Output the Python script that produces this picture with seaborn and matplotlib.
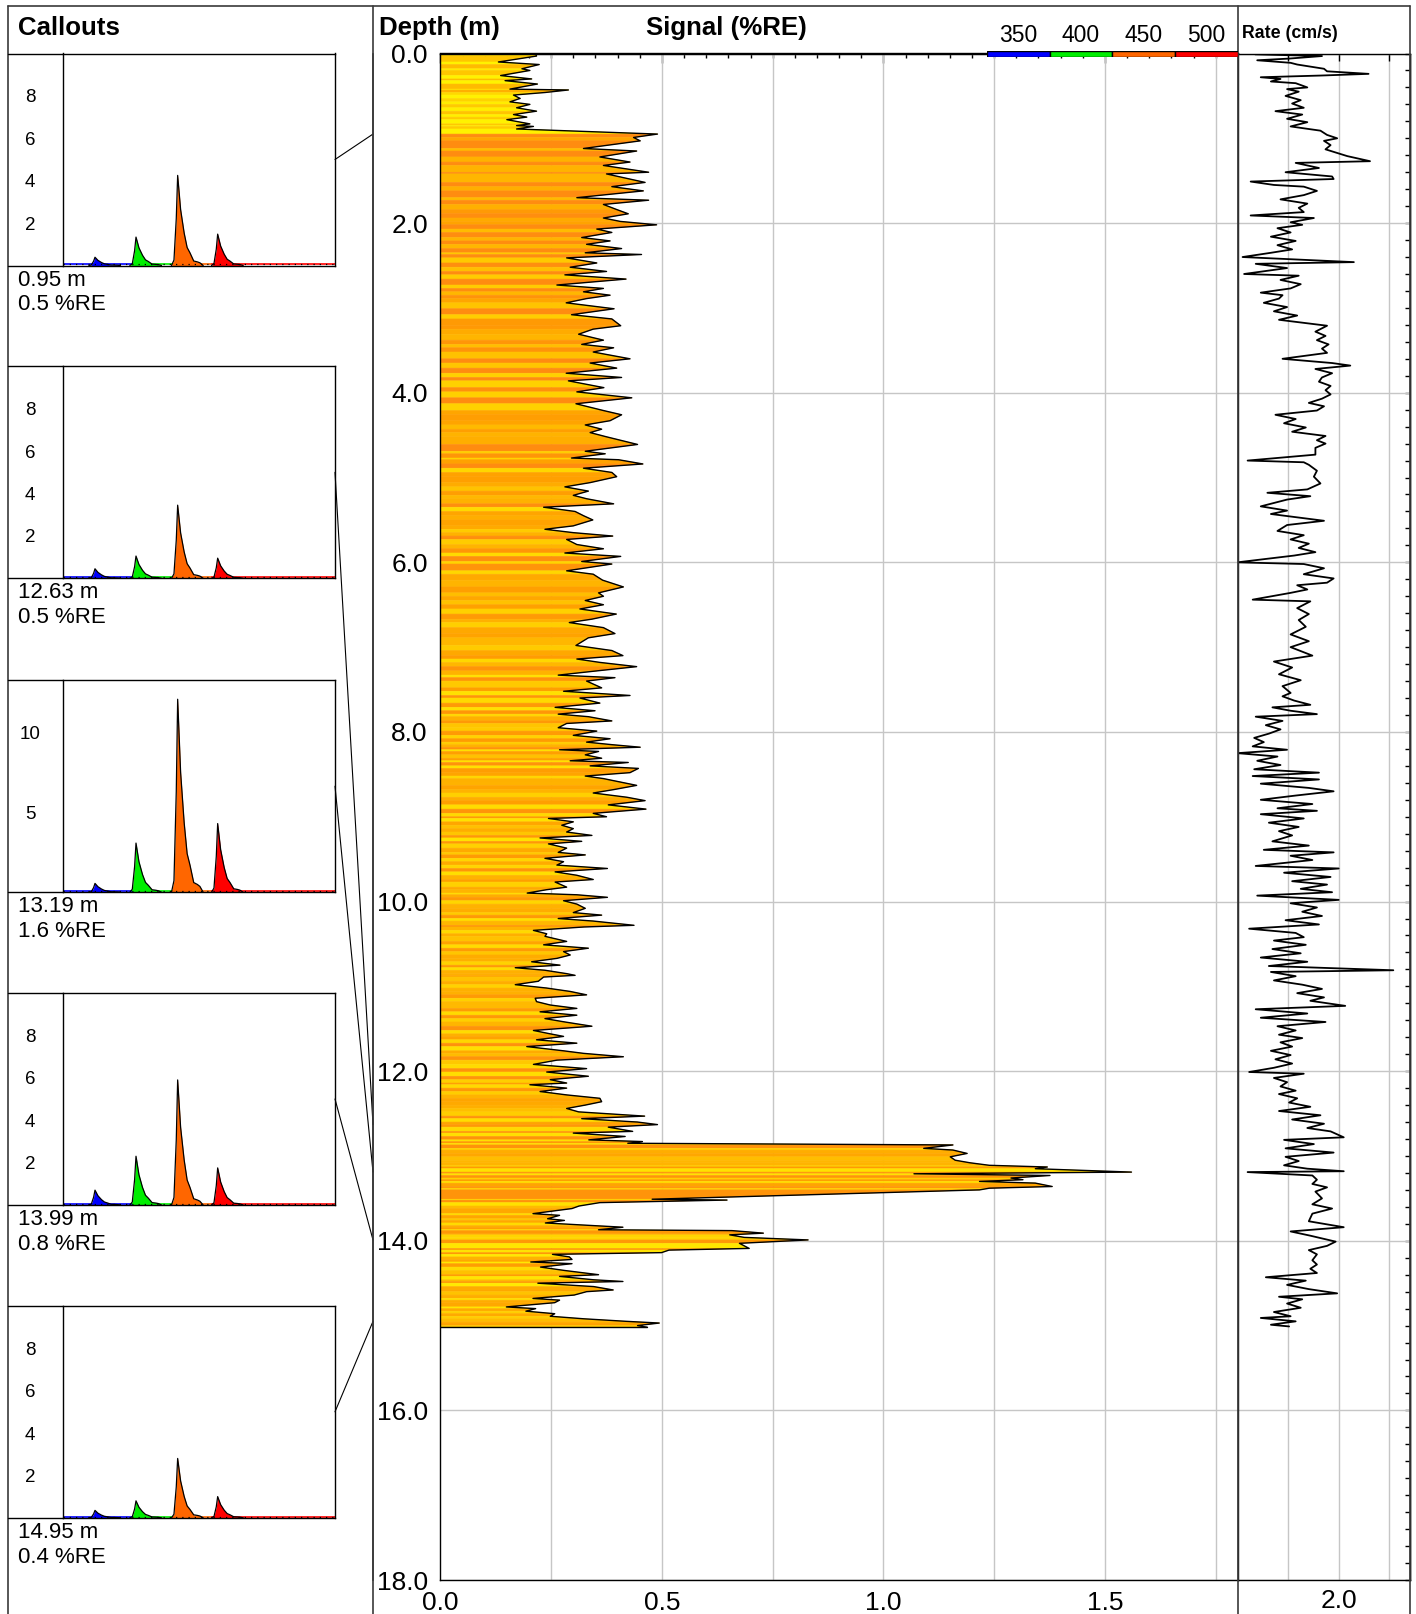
import numpy as np
import matplotlib
matplotlib.use("Agg")
import matplotlib.pyplot as plt
from matplotlib.collections import PolyCollection
from matplotlib.patches import ConnectionPatch
from matplotlib.lines import Line2D
from matplotlib.colors import LinearSegmentedColormap
from matplotlib.ticker import MultipleLocator, FixedLocator, FuncFormatter
import seaborn as sns

# ---------------- signal log (depth m, %RE) ----------------
signal_depth = [
    0.00, 0.03, 0.10, 0.13, 0.18, 0.20, 0.26, 0.30, 0.32, 0.36,
    0.42, 0.43, 0.46, 0.49, 0.53, 0.57, 0.60, 0.64, 0.68, 0.72,
    0.75, 0.78, 0.83, 0.85, 0.86, 0.89, 0.95, 0.99, 1.03, 1.12,
    1.15, 1.22, 1.28, 1.32, 1.40, 1.42, 1.52, 1.57, 1.62, 1.70,
    1.73, 1.78, 1.84, 1.89, 1.94, 1.98, 2.02, 2.07, 2.11, 2.17,
    2.21, 2.25, 2.30, 2.35, 2.37, 2.41, 2.47, 2.52, 2.57, 2.61,
    2.66, 2.73, 2.77, 2.81, 2.85, 2.89, 2.94, 3.01, 3.08, 3.13,
    3.21, 3.25, 3.31, 3.38, 3.43, 3.47, 3.52, 3.60, 3.65, 3.71,
    3.77, 3.82, 3.86, 3.94, 3.99, 4.06, 4.13, 4.21, 4.26, 4.33,
    4.38, 4.43, 4.47, 4.52, 4.61, 4.69, 4.72, 4.77, 4.79, 4.84,
    4.89, 4.94, 4.99, 5.06, 5.11, 5.16, 5.21, 5.25, 5.31, 5.35,
    5.40, 5.45, 5.50, 5.57, 5.61, 5.65, 5.69, 5.73, 5.79, 5.84,
    5.89, 5.93, 5.99, 6.02, 6.10, 6.14, 6.21, 6.29, 6.36, 6.40,
    6.45, 6.50, 6.55, 6.61, 6.67, 6.71, 6.77, 6.84, 6.89, 6.98,
    7.04, 7.10, 7.14, 7.18, 7.23, 7.28, 7.33, 7.36, 7.40, 7.48,
    7.52, 7.57,
    7.60, 7.66, 7.71, 7.75, 7.79, 7.82, 7.87, 7.90, 7.95, 7.99,
    8.04, 8.08, 8.12, 8.15, 8.18, 8.21, 8.23, 8.27, 8.31, 8.34,
    8.36, 8.40, 8.43, 8.48, 8.52, 8.55, 8.59, 8.63, 8.68, 8.72,
    8.77, 8.81, 8.86, 8.91, 8.96, 9.00, 9.02, 9.06, 9.10, 9.14,
    9.18, 9.22, 9.25, 9.29, 9.32, 9.37, 9.42, 9.45, 9.49, 9.53,
    9.57, 9.61, 9.65, 9.69, 9.74, 9.77, 9.83, 9.86, 9.90, 9.92,
    9.95, 9.99, 10.03, 10.08, 10.13, 10.16, 10.20, 10.23, 10.28, 10.30,
    10.34, 10.38, 10.41, 10.47, 10.51, 10.55, 10.59, 10.63, 10.67, 10.71,
    10.75, 10.78, 10.81, 10.85, 10.87, 10.89, 10.94, 10.98, 11.02, 11.06,
    11.10, 11.14, 11.18, 11.22, 11.26, 11.30, 11.34, 11.38, 11.42, 11.47,
    11.52, 11.56, 11.59, 11.63, 11.67, 11.71, 11.76, 11.79, 11.83, 11.87,
    11.92, 11.97, 12.01, 12.06, 12.10, 12.14, 12.16, 12.20, 12.24, 12.28,
    12.32, 12.36, 12.40, 12.44, 12.48,
    12.53, 12.56, 12.60, 12.63, 12.66, 12.71, 12.73, 12.77, 12.81, 12.83,
    12.85, 12.87, 12.91, 12.93, 12.97, 13.01, 13.05, 13.08, 13.11, 13.13,
    13.15, 13.19, 13.21, 13.23, 13.26, 13.28, 13.30, 13.32, 13.36, 13.38,
    13.40, 13.51, 13.52, 13.55, 13.59, 13.62, 13.68, 13.70, 13.74, 13.76,
    13.79, 13.82, 13.84, 13.87, 13.88, 13.91, 13.93, 13.96, 13.99, 14.03,
    14.09, 14.11, 14.14, 14.16, 14.19, 14.22, 14.25, 14.27, 14.31, 14.35,
    14.40, 14.42, 14.46, 14.48, 14.50, 14.54, 14.58, 14.60, 14.64, 14.68,
    14.70, 14.73, 14.78, 14.80, 14.83, 14.86, 14.89, 14.92, 14.95, 14.97,
    15.00, 15.02,
]
signal_value = [
    0.215, 0.217, 0.131, 0.223, 0.184, 0.202, 0.136, 0.206, 0.146, 0.219,
    0.157, 0.289, 0.236, 0.165, 0.180, 0.157, 0.202, 0.172, 0.217, 0.165,
    0.195, 0.150, 0.202, 0.172, 0.210, 0.172, 0.490, 0.436, 0.451, 0.323,
    0.443, 0.360, 0.428, 0.368, 0.470, 0.375, 0.462, 0.387, 0.458, 0.308,
    0.470, 0.368, 0.398, 0.424, 0.368, 0.406, 0.488, 0.353, 0.387, 0.319,
    0.383, 0.330, 0.409, 0.327, 0.454, 0.285, 0.353, 0.293, 0.375, 0.281,
    0.419, 0.263, 0.368, 0.323, 0.383, 0.330, 0.284, 0.392, 0.296, 0.387,
    0.407, 0.345, 0.312, 0.368, 0.319, 0.391, 0.345, 0.428, 0.338, 0.398,
    0.284, 0.409, 0.289, 0.369, 0.308, 0.432, 0.306, 0.368, 0.409, 0.383,
    0.327, 0.364, 0.338, 0.375, 0.445, 0.327, 0.372, 0.296, 0.402, 0.457,
    0.323, 0.387, 0.398, 0.338, 0.281, 0.334, 0.300, 0.330, 0.391, 0.233,
    0.304, 0.323, 0.344, 0.300, 0.236, 0.300, 0.389, 0.285, 0.308, 0.368,
    0.281, 0.407, 0.319, 0.387, 0.285, 0.345, 0.366, 0.413, 0.357, 0.368,
    0.327, 0.368, 0.315, 0.397, 0.342, 0.291, 0.368, 0.394, 0.334, 0.306,
    0.387, 0.412, 0.308, 0.360, 0.443, 0.353, 0.266, 0.394, 0.330, 0.364,
    0.278, 0.428,
    0.315, 0.360, 0.259, 0.349, 0.266, 0.334, 0.387, 0.285, 0.266, 0.353,
    0.300, 0.383, 0.330, 0.387, 0.451, 0.269, 0.357, 0.327, 0.364, 0.293,
    0.424, 0.338, 0.447, 0.428, 0.327, 0.368, 0.406, 0.443, 0.391, 0.345,
    0.421, 0.462, 0.379, 0.464, 0.345, 0.375, 0.244, 0.300, 0.274, 0.300,
    0.285, 0.342, 0.225, 0.319, 0.244, 0.285, 0.266, 0.327, 0.236, 0.278,
    0.263, 0.377, 0.259, 0.308, 0.345, 0.259, 0.285, 0.240, 0.196, 0.308,
    0.377, 0.278, 0.308, 0.327, 0.300, 0.364, 0.266, 0.345, 0.437, 0.323,
    0.210, 0.240, 0.236, 0.285, 0.233, 0.334, 0.278, 0.293, 0.263, 0.206,
    0.270, 0.169, 0.236, 0.285, 0.304, 0.233, 0.221, 0.169, 0.240, 0.293,
    0.330, 0.214, 0.217, 0.248, 0.308, 0.225, 0.308, 0.236, 0.281, 0.342,
    0.210, 0.248, 0.278, 0.217, 0.308, 0.195, 0.278, 0.323, 0.413, 0.263,
    0.210, 0.330, 0.240, 0.334, 0.248, 0.285, 0.202, 0.285, 0.225, 0.285,
    0.360, 0.364, 0.327, 0.285, 0.312,
    0.461, 0.319, 0.445, 0.490, 0.379, 0.434, 0.300, 0.417, 0.335, 0.456,
    0.423, 1.157, 1.091, 1.157, 1.189, 1.151, 1.162, 1.195, 1.239, 1.370,
    1.343, 1.560, 1.069, 1.376, 1.288, 1.315, 1.217, 1.343, 1.381, 1.239,
    1.217, 0.478, 0.647, 0.360, 0.313, 0.297, 0.209, 0.269, 0.242, 0.280,
    0.237, 0.341, 0.412, 0.357, 0.658, 0.729, 0.653, 0.686, 0.830, 0.675,
    0.697, 0.516, 0.499, 0.253, 0.291, 0.297, 0.204, 0.297, 0.226, 0.280,
    0.357, 0.269, 0.346, 0.412, 0.220, 0.346, 0.390, 0.330, 0.302, 0.209,
    0.269, 0.258, 0.149, 0.215, 0.193, 0.258, 0.248, 0.324, 0.420, 0.494,
    0.445, 0.467,
]

# fill tint along depth: 0 = yellow, 1 = deep orange
tint_depth = [0.0, 0.9, 0.95, 1.5, 2.0, 2.5, 3.5, 4.5, 5.5, 6.5, 7.5,
              8.5, 9.5, 10.5, 11.5, 12.5, 13.0, 13.5, 14.0, 14.5, 15.0]
tint_level = [0.18, 0.18, 0.80, 0.86, 0.80, 0.70, 0.66, 0.64, 0.58, 0.55, 0.53,
              0.53, 0.50, 0.50, 0.53, 0.55, 0.52, 0.52, 0.46, 0.44, 0.48]

# ---------------- rate log (depth m, cm/s) ----------------
rate_depth = [
    0.01, 0.03, 0.06, 0.08, 0.11, 0.13, 0.18, 0.21, 0.24, 0.26,
    0.28, 0.30, 0.33, 0.35, 0.40, 0.42, 0.45, 0.50, 0.55, 0.59,
    0.64, 0.68, 0.72, 0.77, 0.81, 0.86, 0.91, 0.96, 1.00, 1.03,
    1.08, 1.13, 1.21, 1.27, 1.29, 1.35, 1.40, 1.45, 1.48, 1.51,
    1.55, 1.57, 1.62, 1.67, 1.72, 1.77, 1.82, 1.87, 1.91, 1.94,
    1.99, 2.02, 2.06, 2.11, 2.16, 2.21, 2.26, 2.31, 2.35, 2.40,
    2.43, 2.46, 2.48, 2.53, 2.60, 2.62, 2.67, 2.72, 2.77, 2.82,
    2.85, 2.89, 2.94, 2.99, 3.04, 3.09, 3.14, 3.19, 3.21, 3.28,
    3.33, 3.38, 3.43, 3.48, 3.53, 3.60, 3.65, 3.68, 3.72, 3.77,
    3.82, 3.87, 3.92, 3.97, 4.02, 4.07, 4.12, 4.16, 4.21, 4.26,
    4.31, 4.36, 4.41, 4.46, 4.51, 4.56, 4.60, 4.65, 4.73, 4.80,
    4.82, 4.85, 4.92, 4.99, 5.07, 5.14, 5.18, 5.22, 5.26, 5.34,
    5.39, 5.43, 5.51, 5.56, 5.63, 5.68, 5.73, 5.78, 5.83, 5.88,
    5.92, 6.00, 6.02, 6.07, 6.14, 6.19, 6.24, 6.27, 6.32, 6.36,
    6.44, 6.46, 6.54, 6.61, 6.68, 6.76, 6.85, 6.93, 7.00, 7.10,
    7.17, 7.24, 7.32, 7.39, 7.46, 7.54,
    7.58, 7.63, 7.68, 7.71, 7.75, 7.79, 7.82, 7.87, 7.92, 7.97,
    8.02, 8.07, 8.12, 8.17, 8.21, 8.25, 8.29, 8.34, 8.39, 8.44,
    8.48, 8.52, 8.56, 8.61, 8.66, 8.70, 8.75, 8.80, 8.85, 8.90,
    8.93, 8.97, 9.02, 9.07, 9.12, 9.17, 9.22, 9.29, 9.34, 9.39,
    9.42, 9.46, 9.51, 9.58, 9.61, 9.66, 9.71, 9.76, 9.80, 9.85,
    9.89, 9.93, 9.98, 10.02, 10.07, 10.12, 10.17, 10.22, 10.27, 10.32,
    10.37, 10.42, 10.46, 10.51, 10.56, 10.61, 10.66, 10.71, 10.76, 10.81,
    10.83, 10.88, 10.93, 10.98, 11.03, 11.08, 11.13, 11.17, 11.23, 11.27,
    11.32, 11.37, 11.42, 11.47, 11.52, 11.57, 11.61, 11.66, 11.71, 11.76,
    11.81, 11.86, 11.91, 11.96, 12.01, 12.03, 12.08, 12.13, 12.18, 12.23,
    12.27, 12.32, 12.37, 12.42, 12.47, 12.52, 12.57, 12.62, 12.67, 12.71,
    12.78, 12.81, 12.86, 12.91, 12.96, 13.01, 13.06, 13.11, 13.15, 13.18,
    13.19, 13.23, 13.28, 13.33, 13.37, 13.42, 13.50, 13.57, 13.62, 13.68,
    13.77, 13.84, 13.89, 13.94, 14.01, 14.06, 14.11, 14.16, 14.23, 14.28,
    14.33, 14.38, 14.43, 14.47, 14.52, 14.57, 14.62, 14.66, 14.69, 14.74,
    14.79, 14.84, 14.89, 14.91, 14.95, 14.99, 15.01,
]
rate_value = [
    1.835, 1.967, 1.902, 1.839, 1.905, 1.918, 1.971, 1.977, 2.059, 1.964,
    1.846, 1.885, 1.866, 1.915, 1.938, 1.898, 1.921, 1.895, 1.925, 1.908,
    1.931, 1.875, 1.928, 1.898, 1.938, 1.905, 1.964, 1.977, 1.997, 1.971,
    1.984, 1.974, 2.017, 2.062, 1.915, 1.961, 1.895, 1.987, 1.990, 1.826,
    1.872, 1.931, 1.957, 1.931, 1.885, 1.938, 1.921, 1.931, 1.826, 1.951,
    1.905, 1.928, 1.879, 1.905, 1.866, 1.915, 1.879, 1.908, 1.866, 1.810,
    1.921, 2.030, 1.836, 1.898, 1.813, 1.921, 1.885, 1.925, 1.905, 1.846,
    1.889, 1.882, 1.852, 1.898, 1.872, 1.918, 1.882, 1.951, 1.977, 1.954,
    1.974, 1.957, 1.980, 1.967, 1.977, 1.889, 1.987, 2.023, 1.954, 1.987,
    1.967, 1.961, 1.984, 1.974, 1.984, 1.967, 1.941, 1.971, 1.957, 1.875,
    1.915, 1.892, 1.935, 1.908, 1.974, 1.957, 1.974, 1.954, 1.954, 1.820,
    1.931, 1.941, 1.957, 1.951, 1.964, 1.938, 1.859, 1.944, 1.898, 1.846,
    1.898, 1.866, 1.971, 1.898, 1.879, 1.931, 1.905, 1.941, 1.921, 1.954,
    1.912, 1.800, 1.931, 1.971, 1.931, 1.990, 1.977, 1.918, 1.938, 1.905,
    1.830, 1.944, 1.918, 1.941, 1.921, 1.935, 1.905, 1.941, 1.905, 1.948,
    1.872, 1.908, 1.882, 1.925, 1.889, 1.905,
    1.889, 1.912, 1.944, 1.869, 1.905, 1.957, 1.836, 1.889, 1.856, 1.885,
    1.862, 1.833, 1.852, 1.830, 1.898, 1.800, 1.879, 1.839, 1.885, 1.833,
    1.961, 1.830, 1.961, 1.846, 1.941, 1.990, 1.915, 1.846, 1.948, 1.879,
    1.957, 1.846, 1.931, 1.862, 1.921, 1.882, 1.908, 1.869, 1.941, 1.852,
    1.990, 1.905, 1.948, 1.836, 2.000, 1.892, 1.984, 1.908, 1.977, 1.925,
    1.987, 1.839, 2.000, 1.905, 1.957, 1.928, 1.967, 1.895, 1.961, 1.823,
    1.915, 1.931, 1.872, 1.935, 1.869, 1.925, 1.846, 1.938, 1.862, 2.108,
    1.866, 1.915, 1.872, 1.928, 1.967, 1.918, 1.971, 1.944, 2.013, 1.836,
    1.938, 1.846, 1.974, 1.879, 1.915, 1.882, 1.928, 1.885, 1.908, 1.866,
    1.905, 1.875, 1.908, 1.872, 1.823, 1.931, 1.872, 1.898, 1.885, 1.915,
    1.882, 1.918, 1.902, 1.944, 1.882, 1.964, 1.908, 1.971, 1.938, 1.984,
    2.010, 1.892, 1.951, 1.895, 1.990, 1.895, 1.921, 1.892, 1.938, 2.010,
    1.820, 1.948, 1.957, 1.948, 1.977, 1.954, 1.967, 1.948, 1.987, 1.948,
    1.941, 2.010, 1.905, 1.944, 1.994, 1.977, 1.941, 1.957, 1.948, 1.957,
    1.944, 1.957, 1.856, 1.935, 1.898, 1.941, 1.997, 1.882, 1.928, 1.898,
    1.925, 1.872, 1.905, 1.846, 1.915, 1.866, 1.902,
]

# ---------------- callout spectra ----------------
callout_depth = [0.95, 12.63, 13.19, 13.99, 14.95]
callout_signal = [0.5, 0.5, 1.6, 0.8, 0.4]
callout_ymax = [10, 10, 13.25, 10, 10]
callout_ystep = [2, 2, 5, 2, 2]
callout_yminor = [0.4, 0.4, 1, 0.4, 0.4]
# peak heights per callout: blue, green, orange, red
peak_heights = [
    [0.39, 1.34, 4.25, 1.48],
    [0.45, 1.05, 3.45, 0.95],
    [0.55, 3.07, 12.06, 4.29],
    [0.70, 2.30, 5.90, 1.75],
    [0.35, 0.80, 2.80, 1.00],
]
peak_centres = [348.5, 398.3, 448.9, 497.5]
band_edges = [310, 393, 442, 490, 640]
band_colours = ["#0000ff", "#00ee00", "#ff6600", "#ff0000"]
legend_labels = ["350", "400", "450", "500"]
profile_offset = [-7.5, -4.5, -1.7, 0.0, 3.6, 7.9, 11.5, 15.0, 19.5, 24.0, 27.0, 31.0]
profile_shape = [0.0, 0.06, 0.52, 1.0, 0.62, 0.36, 0.20, 0.14, 0.05, 0.04, 0.03, 0.0]
baseline_level = 0.05

assert len(signal_depth) == len(signal_value)
assert len(rate_depth) == len(rate_value)

# ---------------- styling ----------------
sns.set_style("white")
plt.rcParams["font.family"] = ["Liberation Sans", "DejaVu Sans"]
plt.rcParams["text.color"] = "black"
plt.rcParams["axes.edgecolor"] = "black"
plt.rcParams["xtick.color"] = "black"
plt.rcParams["ytick.color"] = "black"
plt.rcParams["axes.linewidth"] = 1.0

W, H = 1416, 1614
fig = plt.figure(figsize=(W / 100, H / 100), dpi=100)


def fx(px):
    return px / W


def fy(py):
    return 1 - py / H


def rect(x0, y0, x1, y1):
    return [fx(x0), fy(y1), fx(x1) - fx(x0), fy(y0) - fy(y1)]


GRID = "#c6c6c6"
TOP, BOTTOM = 53.5, 1580.0
DEPTH_MAX = 18.0
TICK_FS = 19
HEAD_FS = 18.6

# ---------------- column frame ----------------
frame_kw = dict(transform=fig.transFigure, color="#3a3a3a", lw=1.2)
fig.add_artist(Line2D([fx(7.7), fx(1409.5)], [fy(5.7), fy(5.7)], **frame_kw))
for xpx in (7.7, 373.0, 1237.5, 1409.5):
    fig.add_artist(Line2D([fx(xpx), fx(xpx)], [fy(5.7), 0], **frame_kw))

# ---------------- main signal track ----------------
ax = fig.add_axes(rect(440.4, TOP, 1237.8, BOTTOM))
ax.set_xlim(0, 1.8)
ax.set_ylim(DEPTH_MAX, 0)

d = np.asarray(signal_depth)
v = np.asarray(signal_value)
base = np.interp(d, tint_depth, tint_level)
jag = np.zeros_like(v)
jag[1:-1] = v[1:-1] - 0.5 * (v[:-2] + v[2:])
tone = np.clip(base + np.clip(jag * 4.0, -0.38, 0.38), 0, 1)
fill_cmap = LinearSegmentedColormap.from_list(
    "fill", ["#fff200", "#ffd400", "#ffb400", "#ffa000", "#ff8c10"])
polys = [[(0, d[i]), (v[i], d[i]), (v[i + 1], d[i + 1]), (0, d[i + 1])]
         for i in range(len(d) - 1)]
cols = fill_cmap(tone[:-1])
ax.add_collection(PolyCollection(polys, facecolors=cols, edgecolors=cols,
                                 linewidths=0.4, zorder=2))
sns.lineplot(x=v, y=d, orient="y", sort=True, estimator=None,
             color="black", lw=1.0, ax=ax, zorder=3)
ax.plot([0, v[-1]], [d[-1], d[-1]], color="black", lw=1.0, zorder=3)

for xg in np.arange(0.25, 1.8, 0.25):
    ax.axvline(xg, color=GRID, lw=1.0, zorder=0.5)
ax.yaxis.set_major_locator(MultipleLocator(2))
ax.yaxis.set_minor_locator(MultipleLocator(0.2))
ax.grid(True, axis="y", which="major", color=GRID, lw=1.0, zorder=0.5)
ax.set_axisbelow(True)
ax.yaxis.set_major_formatter(FuncFormatter(lambda y, p: f"{y:.1f}"))
ax.xaxis.set_major_locator(MultipleLocator(0.5))
ax.xaxis.set_minor_locator(MultipleLocator(0.05))
ax.xaxis.set_major_formatter(FuncFormatter(lambda x, p: f"{x:.1f}"))
ax.tick_params(axis="y", which="major", direction="out", length=8.6, width=1,
               labelsize=TICK_FS, pad=0.5)
ax.tick_params(axis="y", which="minor", direction="out", length=3.6, width=1)
ax.tick_params(axis="x", which="major", direction="out", length=5.8, width=1,
               labelsize=TICK_FS, pad=2.0)
ax.tick_params(axis="x", which="minor", direction="out", length=3.6, width=1)
ax.set_xlabel("")
ax.set_ylabel("")
for s in ax.spines.values():
    s.set_color("black")
    s.set_linewidth(1.0)
sec = ax.secondary_xaxis("top")
sec.xaxis.set_major_locator(MultipleLocator(0.5))
sec.xaxis.set_minor_locator(MultipleLocator(0.05))
sec.tick_params(axis="x", which="major", direction="in", length=7, width=1,
                labeltop=False)
sec.tick_params(axis="x", which="minor", direction="in", length=3.6, width=1)

# ---------------- depth divider ticks ----------------
axt = fig.add_axes(rect(373.0, TOP, 440.4, BOTTOM), facecolor="none")
axt.set_ylim(DEPTH_MAX, 0)
axt.set_xlim(0, 1)
for side in ("top", "right", "bottom"):
    axt.spines[side].set_visible(False)
axt.spines["left"].set_color("#3a3a3a")
axt.spines["left"].set_linewidth(1.2)
axt.set_xticks([])
axt.yaxis.set_major_locator(MultipleLocator(2))
axt.yaxis.set_minor_locator(MultipleLocator(0.2))
axt.tick_params(axis="y", which="major", direction="in", length=7, width=1,
                labelleft=False)
axt.tick_params(axis="y", which="minor", direction="in", length=3.6, width=1)

# ---------------- rate track ----------------
axr = fig.add_axes(rect(1237.5, TOP, 1409.5, BOTTOM))
axr.set_xlim(1.8, 2.14)
axr.set_ylim(DEPTH_MAX, 0)
sns.lineplot(x=rate_value, y=rate_depth, orient="y", sort=True, estimator=None,
             color="black", lw=1.3, ax=axr, zorder=3)
axr.xaxis.set_major_locator(FixedLocator([1.9, 2.0, 2.1]))
axr.xaxis.set_major_formatter(
    FuncFormatter(lambda x, p: f"{x:.1f}" if abs(x - 2.0) < 1e-9 else ""))
axr.yaxis.set_major_locator(MultipleLocator(2))
axr.yaxis.set_minor_locator(MultipleLocator(0.2))
axr.grid(True, which="major", color=GRID, lw=1.0)
axr.set_axisbelow(True)
axr.tick_params(axis="x", which="major", direction="in", length=5, width=1,
                top=True, bottom=False, labelsize=TICK_FS, pad=6.3)
axr.tick_params(axis="y", which="both", direction="inout", length=7, width=1,
                labelleft=False)
axr.set_xlabel("")
axr.set_ylabel("")
for s in axr.spines.values():
    s.set_color("black")
    s.set_linewidth(1.0)
secr = axr.secondary_yaxis("right")
secr.yaxis.set_major_locator(MultipleLocator(2))
secr.yaxis.set_minor_locator(MultipleLocator(0.2))
secr.tick_params(axis="y", which="both", direction="in", length=3.6, width=1,
                 labelright=False)

# ---------------- wavelength legend bar ----------------
lax = fig.add_axes(rect(987.0, 50.7, 1237.5, 56.7))
lax.set_zorder(6)
lax.bar(range(4), [1] * 4, width=1, color=band_colours, edgecolor="black", lw=1)
lax.set_xlim(-0.5, 3.5)
lax.set_ylim(0, 1)
lax.axis("off")
for i, lab in enumerate(legend_labels):
    lax.annotate(lab, xy=(i, 1), xytext=(0, 6.5), textcoords="offset points",
                 ha="center", va="baseline", fontsize=16.5, annotation_clip=False)

# ---------------- headers ----------------
fig.text(fx(18.3), fy(35.0), "Callouts", fontsize=HEAD_FS, fontweight="bold", va="baseline")
fig.text(fx(379.0), fy(35.0), "Depth (m)", fontsize=HEAD_FS, fontweight="bold", va="baseline")
fig.text(fx(646.0), fy(35.0), "Signal (%RE)", fontsize=HEAD_FS, fontweight="bold", va="baseline")
fig.text(fx(1242.0), fy(38.3), "Rate (cm/s)", fontsize=12.8, fontweight="bold", va="baseline")

# ---------------- callout panels ----------------
inset_tops = [53.5, 366.3, 680.2, 993.0, 1305.8]
inset_h = 212.0
prof_x = np.asarray(profile_offset)
prof_y = np.asarray(profile_shape)
for k in range(5):
    top = inset_tops[k]
    bot = top + inset_h
    axi = fig.add_axes(rect(63.3, top, 335.0, bot))
    axi.set_xlim(band_edges[0], band_edges[-1])
    axi.set_ylim(0, callout_ymax[k])
    for b in range(4):
        axi.plot([band_edges[b], band_edges[b + 1]], [baseline_level] * 2,
                 color=band_colours[b], lw=1.2, solid_capstyle="butt")
    axi.plot([band_edges[0], band_edges[-1]], [baseline_level] * 2,
             color="black", lw=0.9, ls=(0, (1, 4)))
    for p in range(4):
        xs = peak_centres[p] + prof_x
        ys = peak_heights[k][p] * prof_y
        axi.fill_between(xs, 0, ys, color=band_colours[p], lw=0)
        axi.plot(xs, ys, color="black", lw=0.9)
    axi.set_xticks([])
    step = callout_ystep[k]
    axi.yaxis.set_major_locator(
        FixedLocator(np.arange(step, callout_ymax[k] - 1e-9, step)))
    axi.yaxis.set_minor_locator(MultipleLocator(callout_yminor[k]))
    axi.yaxis.set_major_formatter(FuncFormatter(lambda y, p: f"{y:g}"))
    axi.tick_params(axis="y", which="major", direction="out", length=6.5,
                    width=0.8, labelsize=13.5, pad=17.5)
    axi.tick_params(axis="y", which="minor", direction="out", length=3.6, width=0.8)
    for t in axi.yaxis.get_major_ticks():
        t.label1.set_horizontalalignment("center")
    for s in axi.spines.values():
        s.set_color("black")
        s.set_linewidth(1.0)
    for ypx in (top, bot):
        fig.add_artist(Line2D([fx(7.7), fx(63.3)], [fy(ypx), fy(ypx)],
                              transform=fig.transFigure, color="black", lw=1.0))
    fig.text(fx(18.3), fy(bot + 20.0), f"{callout_depth[k]:.2f} m",
             fontsize=16, va="baseline")
    fig.text(fx(18.3), fy(bot + 45.0), f"{callout_signal[k]:.1f} %RE",
             fontsize=16, va="baseline")
    con = ConnectionPatch(xyA=(1, 0.5), coordsA=axi.transAxes,
                          xyB=(0, callout_depth[k]), coordsB=axt.get_yaxis_transform(),
                          color="black", lw=0.8)
    fig.add_artist(con)

fig.savefig("out.png", dpi=100)
